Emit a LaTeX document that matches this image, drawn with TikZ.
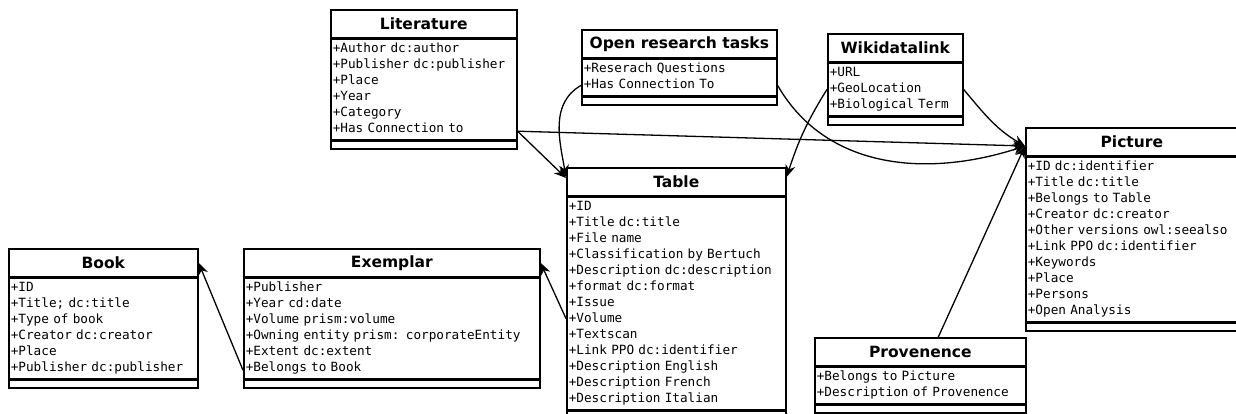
\documentclass[tikz,border=0pt]{standalone}
\usepackage{fontspec}
\usepackage{tikz}
\usetikzlibrary{arrows.meta}
\newfontfamily\titlefont{DejaVu Sans}
\newfontfamily\attrfont{DejaVu Sans Mono}
\tikzset{
	classtitle/.style={draw, line width=1.6pt, anchor=north west, minimum height=28pt, inner sep=0pt, font=\titlefont\bfseries\fontsize{15.5}{18}\selectfont},
	classattrs/.style={draw, line width=1.6pt, anchor=north west, inner xsep=2pt, inner ysep=2pt, align=left, font=\attrfont\fontsize{12.7}{16}\selectfont, execute at begin node=\strut, execute at end node=\strut},
	classops/.style={draw, line width=1.6pt, anchor=north west, minimum height=8pt, inner sep=0pt},
	assoc/.style={line width=1.3pt, -{Stealth[length=12pt,width=10pt]}},
}
\begin{document}
\begin{tikzpicture}[x=1pt,y=-1pt]
			\useasboundingbox (0,0) rectangle (1236,413);
			\node[classtitle, minimum width=186pt] (lit) at (330,9) {Literature};
			\node[classattrs, text width=182pt] (lit-attr) at (lit.south west) {+Author dc:author\\+Publisher dc:publisher\\+Place\\+Year\\+Category\\+Has Connection to};
			\node[classops, minimum width=186pt] (lit-op) at (lit-attr.south west) {};
			\node[classtitle, minimum width=195pt] (ort) at (581,29) {Open research tasks};
			\node[classattrs, text width=191pt] (ort-attr) at (ort.south west) {+Reserach Questions\\+Has Connection To};
			\node[classops, minimum width=195pt] (ort-op) at (ort-attr.south west) {};
			\node[classtitle, minimum width=135pt] (wiki) at (827,33) {Wikidatalink};
			\node[classattrs, text width=131pt] (wiki-attr) at (wiki.south west) {+URL\\+GeoLocation\\+Biological Term};
			\node[classops, minimum width=135pt] (wiki-op) at (wiki-attr.south west) {};
			\node[classtitle, minimum width=212pt] (pic) at (1025,127) {Picture};
			\node[classattrs, text width=208pt] (pic-attr) at (pic.south west) {+ID dc:identifier\\+Title dc:title\\+Belongs to Table\\+Creator dc:creator\\+Other versions owl:seealso\\+Link PPO dc:identifier\\+Keywords\\+Place\\+Persons\\+Open Analysis};
			\node[classops, minimum width=212pt] (pic-op) at (pic-attr.south west) {};
			\node[classtitle, minimum width=219pt] (tab) at (566,167) {Table};
			\node[classattrs, text width=215pt] (tab-attr) at (tab.south west) {+ID\\+Title dc:title\\+File name\\+Classification by Bertuch\\+Description dc:description\\+format dc:format\\+Issue\\+Volume\\+Textscan\\+Link PPO dc:identifier\\+Description English\\+Description French\\+Description Italian};
			\node[classops, minimum width=219pt] (tab-op) at (tab-attr.south west) {};
			\node[classtitle, minimum width=189pt] (book) at (8,248) {Book};
			\node[classattrs, text width=185pt] (book-attr) at (book.south west) {+ID\\+Title; dc:title\\+Type of book\\+Creator dc:creator\\+Place\\+Publisher dc:publisher};
			\node[classops, minimum width=189pt] (book-op) at (book-attr.south west) {};
			\node[classtitle, minimum width=296pt] (ex) at (243,248) {Exemplar};
			\node[classattrs, text width=292pt] (ex-attr) at (ex.south west) {+Publisher\\+Year cd:date\\+Volume prism:volume\\+Owning entity prism: corporateEntity\\+Extent dc:extent\\+Belongs to Book};
			\node[classops, minimum width=296pt] (ex-op) at (ex-attr.south west) {};
			\node[classtitle, minimum width=211pt] (prov) at (814,337) {Provenence};
			\node[classattrs, text width=207pt] (prov-attr) at (prov.south west) {+Belongs to Picture\\+Description of Provenence};
			\node[classops, minimum width=211pt] (prov-op) at (prov-attr.south west) {};
			\draw[assoc] ([yshift=9pt]ex-attr.south west) -- (book.east);
			\draw[assoc] ([yshift=-122pt]tab-attr.north west) -- (ex.east);
			\draw[assoc] ([yshift=9pt]lit-attr.south east) -- ([yshift=-11pt]tab.north west);
			\draw[assoc] ([yshift=9pt]lit-attr.south east) -- ([yshift=-19pt]pic.north west);
			\draw[assoc] ([yshift=-8pt]ort-attr.west) to[out=210,in=100] ([yshift=-10pt]tab.north west);
			\draw[assoc] ([yshift=-8pt]ort-attr.east) to[out=-60,in=198] ([yshift=-19pt]pic.north west);
			\draw[assoc] (wiki-attr.west) to[out=238,in=72] ([yshift=-10pt]tab.north east);
			\draw[assoc] (wiki-attr.east) to[out=-50,in=150] ([yshift=-19pt]pic.north west);
			\draw[assoc] ([xshift=18pt]prov.north) -- ([yshift=-19pt]pic.north west);
		\end{tikzpicture}
\end{document}
